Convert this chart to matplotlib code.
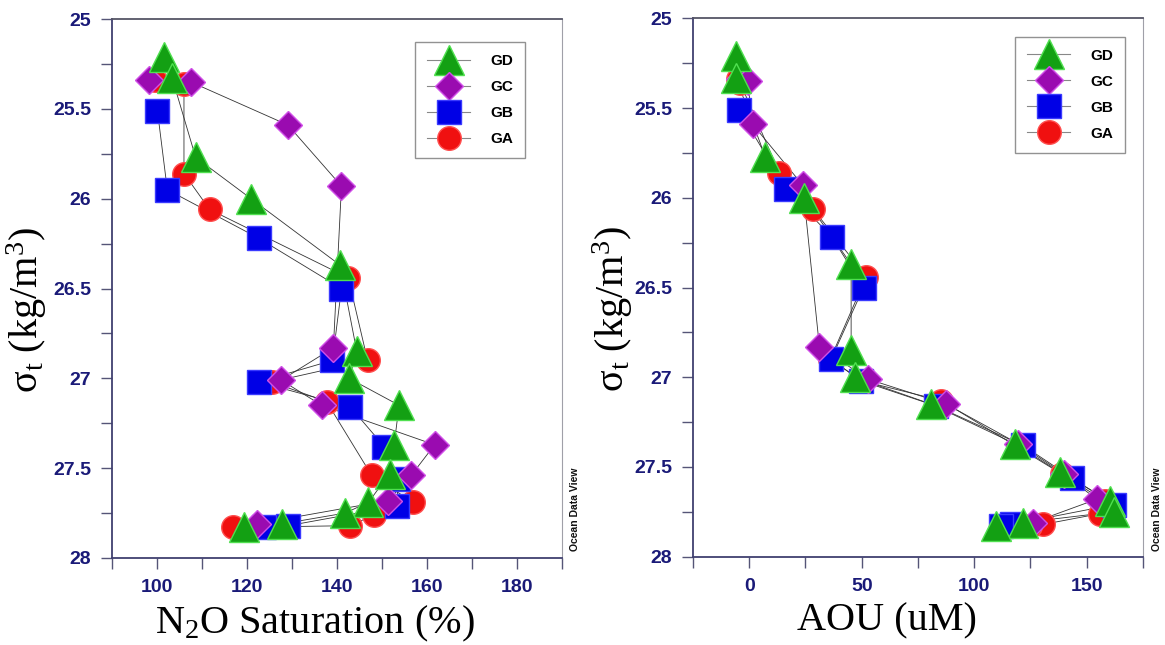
import matplotlib
matplotlib.use("Agg")
import matplotlib.pyplot as plt
from matplotlib.lines import Line2D
import numpy as np

plt.rcParams['mathtext.default'] = 'regular'

# -------------------------
# Data (sigma-t, N2O saturation %, AOU uM) per station
# -------------------------
ga_sigma = [25.34, 25.36, 25.86, 26.06, 26.44, 26.90, 27.02, 27.13, 27.54, 27.69, 27.76, 27.82, 27.83]
ga_n2o = [99.5, 106.0, 106.0, 111.7, 142.5, 146.8, 125.5, 137.7, 147.7, 156.9, 148.3, 142.9, 116.8]
ga_aou = [-5.0, -4.0, 13.4, 28.2, 52.0, 36.0, 50.0, 85.4, 139.0, 158.0, 155.9, 130.7, 125.0]

gb_sigma = [25.51, 25.95, 26.22, 26.50, 26.90, 27.02, 27.16, 27.38, 27.56, 27.71, 27.82, 27.83]
gb_n2o = [100.1, 102.3, 122.6, 141.0, 139.0, 122.6, 143.0, 150.5, 153.5, 153.4, 129.2, 123.7]
gb_aou = [-4.5, 16.3, 36.8, 50.8, 36.4, 49.7, 83.0, 121.7, 143.3, 161.9, 117.0, 112.0]

gc_sigma = [25.34, 25.35, 25.59, 25.93, 26.83, 27.01, 27.15, 27.37, 27.54, 27.68, 27.81]
gc_n2o = [98.2, 107.5, 129.1, 141.0, 139.2, 127.6, 136.6, 161.7, 156.5, 151.4, 122.2]
gc_aou = [-4.0, -0.7, 1.5, 23.8, 31.2, 52.7, 87.6, 119.5, 140.0, 154.4, 126.0]

gd_sigma = [25.21, 25.33, 25.77, 26.00, 26.37, 26.85, 27.00, 27.15, 27.37, 27.53, 27.69, 27.75, 27.81, 27.83]
gd_n2o = [101.6, 103.4, 108.6, 120.9, 140.7, 144.4, 142.7, 153.8, 152.7, 151.7, 147.0, 141.8, 127.8, 119.4]
gd_aou = [-5.9, -5.9, 7.1, 24.5, 45.3, 45.3, 46.8, 80.9, 118.0, 138.1, 160.4, 161.9, 121.7, 109.9]

# drawing order: GA at the bottom, GD on top
stations = [
    ("GA", ga_sigma, ga_n2o, ga_aou, "o", 17, "#f01010", "#ff5050"),
    ("GB", gb_sigma, gb_n2o, gb_aou, "s", 17, "#0000e6", "#3a3aff"),
    ("GC", gc_sigma, gc_n2o, gc_aou, "D", 14, "#9a0bb0", "#d050e8"),
    ("GD", gd_sigma, gd_n2o, gd_aou, "^", 21, "#13a013", "#50e050"),
]

navy = "#1a1a78"
tick_font = dict(family="Liberation Sans", weight="bold", size=14)

fig = plt.figure(figsize=(11.65, 6.45), dpi=100)
ax1 = fig.add_axes([0.0961, 0.1349, 0.3863, 0.8356])
ax2 = fig.add_axes([0.5948, 0.1369, 0.3863, 0.8347])


def draw_panel(ax, col, xlim, major, label_step, xlabel, xlab_x, ylab_x, leg_anchor):
    # connecting lines first, markers above them
    for name, sig, n2o, aou, mk, ms, fc, ec in stations:
        xs = n2o if col == 0 else aou
        ax.plot(xs, sig, "-", color="#333333", lw=0.6, zorder=2)
    for i, (name, sig, n2o, aou, mk, ms, fc, ec) in enumerate(stations):
        xs = n2o if col == 0 else aou
        ax.plot(xs, sig, linestyle="none", marker=mk, ms=ms, mfc=fc,
                mec=ec, mew=1.0, zorder=3 + i)

    ax.set_xlim(*xlim)
    ax.set_ylim(28, 25)

    xt = np.arange(xlim[0], xlim[1] + 0.01, major)
    ax.set_xticks(xt)
    ax.set_xticklabels([f"{v:g}" if (v % label_step == 0) else "" for v in xt])
    yt = np.arange(25, 28.01, 0.25)
    ax.set_yticks(yt)
    ax.set_yticklabels([f"{v:g}" if (v * 2) % 1 == 0 else "" for v in yt])

    ax.tick_params(direction="out", length=8, width=1, color="#555577", pad=7)
    for lab in ax.get_xticklabels() + ax.get_yticklabels():
        lab.set_fontproperties(tick_font)
        lab.set_color(navy)

    ax.spines["left"].set_color("#404070")
    ax.spines["bottom"].set_color("#404070")
    ax.spines["top"].set_color("#555566")
    ax.spines["right"].set_color("#a0a0a8")
    ax.spines["left"].set_linewidth(1.3)
    ax.spines["bottom"].set_linewidth(1.3)
    ax.spines["top"].set_linewidth(1.3)
    ax.spines["right"].set_linewidth(0.8)

    ax.set_xlabel(xlabel, family="Liberation Serif", fontsize=29)
    ax.xaxis.set_label_coords(xlab_x, -0.085)
    ax.set_ylabel("σ$_t$ (kg/m$^3$)", family="Liberation Serif", fontsize=29)
    ax.yaxis.set_label_coords(ylab_x, 0.46)

    handles = []
    for name, sig, n2o, aou, mk, ms, fc, ec in stations[::-1]:
        handles.append(Line2D([], [], color="#888888", lw=0.8, marker=mk, ms=ms,
                              mfc=fc, mec=ec, mew=1.0, label=name))
    leg = ax.legend(handles=handles, loc="upper right", bbox_to_anchor=leg_anchor,
                    prop=dict(family="Liberation Sans", weight="bold", size=11),
                    frameon=True, fancybox=False, edgecolor="#777777",
                    handlelength=2.8, labelspacing=0.78, borderpad=0.8,
                    handletextpad=1.3, borderaxespad=0)
    leg.get_frame().set_linewidth(1.0)
    leg.set_zorder(10)


draw_panel(ax1, 0, (90, 190), 10, 20, "N$_2$O Saturation (%)", 0.45, -0.141, (0.918, 0.957))
draw_panel(ax2, 1, (-25, 175), 25, 50, "AOU (uM)", 0.43, -0.128, (0.96, 0.966))

# Ocean Data View watermark
fig.text(0.4936, 0.145, "Ocean Data View", rotation=90, ha="center", va="bottom",
         family="Liberation Sans", weight="bold", fontsize=7.5, color="#111111")
fig.text(0.993, 0.145, "Ocean Data View", rotation=90, ha="center", va="bottom",
         family="Liberation Sans", weight="bold", fontsize=7.5, color="#111111")

fig.savefig("out.png", dpi=100, facecolor="white")
